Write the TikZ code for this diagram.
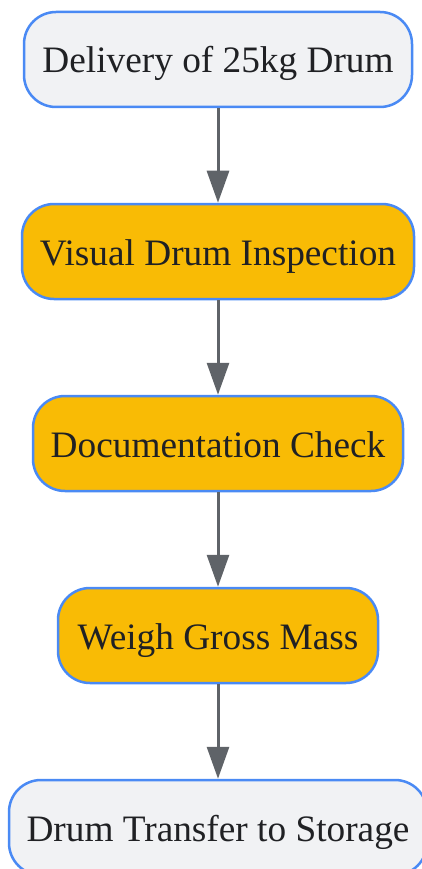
\documentclass[tikz,border=0pt]{standalone}
\usepackage{fontspec}
\setmainfont{Liberation Serif}
\usetikzlibrary{arrows.meta}
\definecolor{graybox}{HTML}{F1F2F4}
\definecolor{orangebox}{HTML}{F9BB05}
\definecolor{bordblue}{HTML}{4A8AF4}
\definecolor{arrowgray}{HTML}{5F6368}
\definecolor{txt}{HTML}{202124}
\begin{document}
\begin{tikzpicture}[x=1pt,y=1pt,
  box/.style={draw=bordblue, line width=2.5pt, rounded corners=32pt,
    minimum height=95pt, inner sep=0pt, text=txt,
    text height=27pt, text depth=0pt,
    font=\fontsize{37.3}{42}\selectfont},
  graynode/.style={box, fill=graybox},
  orangenode/.style={box, fill=orangebox},
  flow/.style={draw=arrowgray, line width=3pt, -{Triangle[length=32pt,width=22pt]}}]
\useasboundingbox (0,0) rectangle (422,-869);
\node[graynode, minimum width=388pt] (n1) at (218,-59.5) {Delivery of 25kg Drum};
\node[orangenode, minimum width=392pt] (n2) at (218,-251.5) {Visual Drum Inspection};
\node[orangenode, minimum width=370pt] (n3) at (218,-443.5) {Documentation Check};
\node[orangenode, minimum width=320pt] (n4) at (218,-635.5) {Weigh Gross Mass};
\node[graynode, minimum width=418pt] (n5) at (218,-827.5) {Drum Transfer to Storage};
\draw[flow] (n1) -- (n2);
\draw[flow] (n2) -- (n3);
\draw[flow] (n3) -- (n4);
\draw[flow] (n4) -- (n5);
\end{tikzpicture}
\end{document}
